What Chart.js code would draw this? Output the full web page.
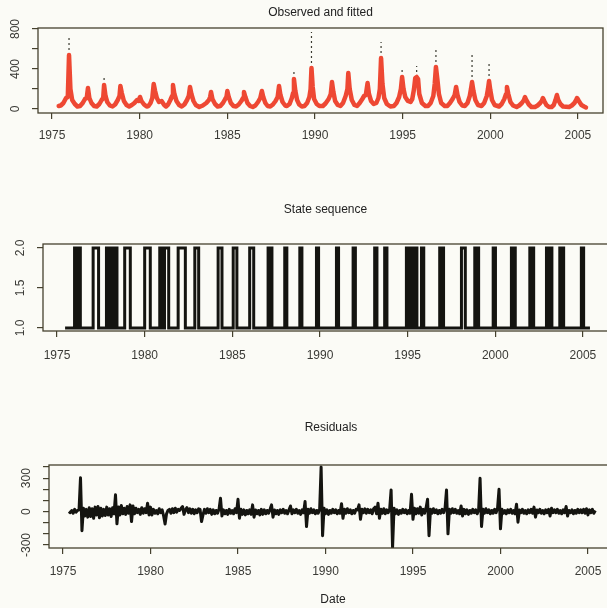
<!DOCTYPE html>
<html><head><meta charset="utf-8">
<script src="https://cdn.jsdelivr.net/npm/chart.js@4"></script>
<style>
html,body{margin:0;padding:0;background:#fbfbf6;overflow:hidden;width:607px;height:608px;position:relative;}
canvas{position:absolute;left:0;}
</style></head><body>
<canvas id="c1"></canvas>
<canvas id="c2"></canvas>
<canvas id="c3"></canvas>
<script>
// ---------- DATA ----------
const xTickYears = [1975, 1980, 1985, 1990, 1995, 2000, 2005];

// Panel 1: fitted series (red), [year, value]
const fittedPoints = [
 [1975.38,30],[1975.5,35],[1975.65,60],[1975.8,110],[1975.9,120],[1975.97,540],[1976.05,200],[1976.15,90],[1976.3,50],[1976.45,25],
 [1976.6,30],[1976.75,60],[1976.88,100],[1976.98,110],[1977.05,210],[1977.13,110],[1977.25,60],[1977.4,30],
 [1977.55,25],[1977.7,50],[1977.83,90],[1977.92,110],[1977.97,240],[1978.05,130],[1978.15,70],[1978.3,35],
 [1978.45,25],[1978.6,45],[1978.75,90],[1978.85,130],[1978.9,230],[1978.98,160],[1979.1,80],[1979.25,40],
 [1979.4,25],[1979.55,40],[1979.7,60],[1979.85,90],[1979.95,80],[1980.02,120],[1980.1,80],[1980.25,45],[1980.4,25],
 [1980.5,30],[1980.62,60],[1980.72,110],[1980.8,250],[1980.88,180],[1980.98,110],[1981.1,70],[1981.25,80],[1981.4,40],
 [1981.5,25],[1981.62,45],[1981.75,90],[1981.85,130],[1981.9,240],[1981.98,150],[1982.1,80],[1982.25,40],
 [1982.4,25],[1982.55,45],[1982.7,90],[1982.8,130],[1982.87,220],[1982.95,150],[1983.07,80],[1983.2,40],
 [1983.4,20],[1983.6,35],[1983.8,60],[1983.95,90],[1984.02,120],[1984.07,170],[1984.15,100],[1984.3,50],[1984.45,25],
 [1984.6,30],[1984.75,60],[1984.88,100],[1984.95,120],[1985.0,180],[1985.08,120],[1985.2,60],[1985.35,30],
 [1985.5,25],[1985.65,45],[1985.8,80],[1985.9,110],[1985.95,170],[1986.03,120],[1986.15,60],[1986.3,30],
 [1986.45,20],[1986.6,35],[1986.75,70],[1986.88,110],[1986.97,180],[1987.05,120],[1987.17,60],[1987.3,30],
 [1987.45,25],[1987.6,45],[1987.75,80],[1987.87,120],[1987.95,230],[1988.03,140],[1988.15,70],[1988.3,35],
 [1988.4,30],[1988.55,50],[1988.68,110],[1988.75,160],[1988.8,300],[1988.88,180],[1988.98,90],[1989.1,45],[1989.25,25],
 [1989.4,30],[1989.55,60],[1989.68,120],[1989.75,200],[1989.8,410],[1989.87,220],[1989.95,100],[1990.1,50],[1990.25,30],
 [1990.45,30],[1990.6,55],[1990.78,100],[1990.9,150],[1990.97,270],[1991.05,170],[1991.15,80],[1991.3,40],
 [1991.45,30],[1991.6,60],[1991.75,130],[1991.85,200],[1991.9,360],[1991.98,200],[1992.1,90],[1992.25,40],
 [1992.4,30],[1992.55,60],[1992.7,100],[1992.8,130],[1992.9,140],[1993.0,260],[1993.08,150],[1993.2,80],[1993.35,50],
 [1993.5,60],[1993.62,110],[1993.7,200],[1993.77,510],[1993.85,250],[1993.95,110],[1994.1,50],[1994.3,25],
 [1994.5,30],[1994.65,60],[1994.8,120],[1994.9,200],[1994.97,320],[1995.05,200],[1995.15,120],[1995.3,80],[1995.45,70],
 [1995.55,100],[1995.65,200],[1995.72,310],[1995.8,320],[1995.88,300],[1995.95,150],[1996.1,60],[1996.3,30],
 [1996.45,30],[1996.6,60],[1996.75,130],[1996.83,250],[1996.9,420],[1996.98,300],[1997.07,150],[1997.2,60],[1997.4,30],
 [1997.55,30],[1997.7,60],[1997.85,100],[1997.97,140],[1998.05,220],[1998.13,140],[1998.25,70],[1998.4,35],
 [1998.55,30],[1998.7,60],[1998.83,130],[1998.9,200],[1998.96,270],[1999.04,180],[1999.15,90],[1999.3,40],
 [1999.5,30],[1999.65,60],[1999.8,130],[1999.87,200],[1999.93,280],[2000.0,190],[2000.1,90],[2000.25,40],
 [2000.5,25],[2000.65,50],[2000.8,100],[2000.9,150],[2000.95,220],[2001.03,150],[2001.15,70],[2001.3,35],
 [2001.5,20],[2001.65,35],[2001.8,60],[2001.92,90],[2001.98,120],[2002.05,90],[2002.2,45],[2002.35,20],
 [2002.55,20],[2002.7,35],[2002.85,60],[2002.95,85],[2003.0,110],[2003.08,80],[2003.2,40],[2003.35,20],
 [2003.5,20],[2003.62,40],[2003.72,90],[2003.8,140],[2003.88,90],[2004.0,50],[2004.15,25],
 [2004.5,20],[2004.65,35],[2004.8,60],[2004.9,90],[2004.95,110],[2005.05,80],[2005.2,40],[2005.35,25],[2005.46,15]
];

// Panel 1: observed values where they rise above the fitted peak (dotted)
const observedPeakYears  = [1975.97, 1977.97, 1984.07, 1988.8, 1989.8, 1993.77, 1994.97, 1995.8, 1996.9, 1998.96, 1999.93, 2003.8];
const fittedPeakValues   = [540, 240, 170, 300, 410, 510, 320, 320, 420, 270, 280, 140];
const observedPeakValues = [740, 330, 210, 370, 770, 670, 420, 430, 620, 540, 480, 170];

const obsTicks = [0, 200, 400, 600, 800];
const obsTickLabels = [0, 400, 800];

// Panel 2: state sequence, intervals spent in state 2
const stateStartYear = 1975.46, stateEndYear = 2005.4;
const state2Start = [1976.0,1976.1,1976.2, 1977.06, 1977.82,1977.98,1978.1,1978.22,1978.35, 1978.86, 1980.0,
  1980.86,1981.0,1981.13, 1981.91, 1982.86, 1984.19, 1985.05, 1985.99, 1987.04,1987.16, 1987.99, 1988.85, 1989.8,
  1990.94, 1991.89, 1993.12, 1993.69, 1994.93,1995.05,1995.17,1995.29,1995.41, 1995.79, 1996.83,1996.96, 1998.07,
  1998.83,1998.96, 1999.88, 2000.92,2001.04, 2001.97,2002.09, 2002.92,2003.04,2003.16, 2003.68,2003.8, 2004.91];
const state2End = [1976.06,1976.16,1976.33, 1977.37, 1977.88,1978.05,1978.17,1978.3,1978.42, 1979.18, 1980.32,
  1980.95,1981.08,1981.37, 1982.32, 1983.08, 1984.41, 1985.26, 1986.22, 1987.12,1987.26, 1988.11, 1988.97, 1989.92,
  1991.06, 1992.02, 1993.25, 1993.82, 1995.0,1995.12,1995.24,1995.36,1995.53, 1995.92, 1996.92,1997.05, 1998.29,
  1998.92,1999.05, 2000.01, 2001.0,2001.14, 2002.05,2002.19, 2003.0,2003.12,2003.23, 2003.76,2003.9, 2005.04];
const stateTicks = [1, 1.5, 2];
const stateTickLabels = ['1.0', '1.5', '2.0'];

// Panel 3: monthly residuals, one row per year (Jan..Dec)
const residualFirstYear = 1975;
const residualRows = [
 [null,null,null,null,0,-10,10,-15,20,-5,10,15],
 [304,-172,30,-40,20,-50,35,-45,25,-60,40,-30],
 [45,-55,30,-40,20,-35,40,-30,25,-45,35,-20],
 [150,-110,40,-30,55,-20,30,-25,45,-15,60,-90],
 [50,-20,30,-10,20,-25,35,-15,25,-10,75,-30],
 [40,-30,20,-15,10,-20,25,-10,15,-40,-112,-20],
 [10,20,-15,25,-10,30,-5,20,10,30,45,-25],
 [15,35,-10,25,-15,20,-20,15,-10,25,20,-90],
 [-30,20,-15,25,-10,20,-25,15,-20,10,-15,20],
 [120,-40,15,-20,10,-25,20,-15,10,-20,25,-10],
 [110,-60,20,-25,15,-30,10,-20,15,-25,60,-50],
 [15,-20,10,-30,20,-25,15,-20,10,-15,20,60],
 [-50,15,-20,10,-25,15,-10,20,-15,10,-20,15],
 [50,-20,15,-10,20,-15,10,-25,15,-10,90,-135],
 [20,-15,25,-10,15,-20,10,-15,20,400,-217,30],
 [-20,15,-25,10,-15,20,-10,15,-20,10,-15,70],
 [-60,20,-15,25,-10,15,-20,10,-15,20,15,60],
 [-70,20,-10,25,-15,20,-10,15,-20,25,40,-20],
 [75,-60,20,-15,25,-20,15,-10,20,194,-325,30],
 [-20,15,-25,10,-15,20,-10,15,-20,10,-15,155],
 [-70,30,-20,25,-15,40,-30,20,-15,35,110,-217],
 [20,-15,25,-10,15,-20,10,-15,20,-10,30,194],
 [-200,20,-15,25,-10,20,-15,10,-20,50,-40,20],
 [-20,15,-25,10,-15,20,-10,15,-20,10,298,-134],
 [20,-15,25,-10,15,-20,10,-15,20,-10,30,200],
 [-155,20,-15,10,-20,15,-10,20,-15,10,-20,66],
 [-95,15,-10,20,-15,10,-20,15,-10,20,-15,40],
 [-50,15,-10,20,-15,10,-20,15,-10,20,-40,30],
 [-10,15,-10,20,-15,10,-20,15,-10,45,-40,10],
 [-10,15,-20,10,-15,20,-10,15,-10,20,-15,25],
 [-30,15,-10,20,-15,10]
];
const resTicks = [-300,-200,-100,0,100,200,300,400];
const resTickLabels = [-300, 0, 300];

// ---------- BUILD ----------
const FONT = "'Liberation Sans', Arial, Helvetica, sans-serif";
const BOX = '#45412e';
const TXT = '#3a3a36';

const fittedData = fittedPoints.map(p => ({x:p[0], y:p[1]}));
const observedData = [];
observedPeakYears.forEach((t,i) => {
  observedData.push({x:t, y:fittedPeakValues[i]});
  observedData.push({x:t, y:observedPeakValues[i]});
  observedData.push({x:t, y:null});
});

const stateData = [{x:stateStartYear, y:1}];
state2Start.forEach((s,i) => { stateData.push({x:s, y:2}); stateData.push({x:state2End[i], y:1}); });
stateData.push({x:stateEndYear, y:1});

const residualData = [];
residualRows.forEach((row, i) => row.forEach((v, m) => {
  if (v !== null) residualData.push({x: residualFirstYear + i + m/12, y: v});
}));

const framePlugin = {
  id: 'frame',
  afterDraw(chart) {
    const o = chart.options.plugins.frame;
    const ctx = chart.ctx, a = chart.chartArea;
    ctx.save();
    ctx.strokeStyle = BOX; ctx.lineWidth = 1.3;
    ctx.strokeRect(a.left, a.top, a.right - a.left, a.bottom - a.top);
    ctx.fillStyle = '#222';
    ctx.font = '12px ' + FONT;
    ctx.textAlign = 'center'; ctx.textBaseline = 'middle';
    ctx.fillText(o.title, (a.left + a.right) / 2, o.titleY);
    if (o.xlabel) ctx.fillText(o.xlabel, o.xlabelX, o.xlabelY);
    const ys = chart.scales.y;
    ctx.fillStyle = TXT;
    o.yLabels.forEach((lab, i) => {
      const py = ys.getPixelForValue(o.yLabelValues[i]);
      ctx.save();
      ctx.translate(a.left - 22, py);
      ctx.rotate(-Math.PI/2);
      ctx.fillText(String(lab), 0, 0);
      ctx.restore();
    });
    ctx.restore();
  }
};

function makePanel(id, cfg) {
  const cv = document.getElementById(id);
  cv.width = 620; cv.height = cfg.height;
  cv.style.width = '620px'; cv.style.height = cfg.height + 'px';
  cv.style.top = cfg.top + 'px';
  const axisCommon = {
    grid: {display:true, drawOnChartArea:false, drawTicks:true, tickLength:6, color:BOX, lineWidth:1.2},
    border: {display:false}
  };
  return new Chart(cv, {
    type: 'line',
    data: {datasets: cfg.datasets},
    options: {
      responsive: false, animation: false, devicePixelRatio: 1,
      layout: {padding: {left:0, top: cfg.area.top - cfg.top, right: 620 - cfg.area.right, bottom: 0}},
      elements: {point: {radius: 0}, line: {tension: 0}},
      plugins: {
        legend: {display:false}, tooltip: {enabled:false}, title: {display:false},
        frame: {title: cfg.title, titleY: cfg.titleY - cfg.top, xlabel: cfg.xlabel,
                xlabelX: cfg.xlabelX, xlabelY: cfg.xlabelY - cfg.top,
                yLabels: cfg.yLabels, yLabelValues: cfg.yLabelValues}
      },
      scales: {
        x: Object.assign({}, axisCommon, {
          type: 'linear', min: 1974.2, max: cfg.xmax,
          afterBuildTicks: s => { s.ticks = xTickYears.map(v => ({value: v})); },
          afterFit: s => { s.height = cfg.top + cfg.height - cfg.area.bottom; },
          ticks: {font: {family: FONT, size: 12}, color: TXT, padding: cfg.xPad, maxRotation: 0, autoSkip: false,
                  callback: v => String(v)}
        }),
        y: Object.assign({}, axisCommon, {
          type: 'linear', min: cfg.ymin, max: cfg.ymax,
          afterBuildTicks: s => { s.ticks = cfg.yTicks.map(v => ({value: v})); },
          afterFit: s => { s.width = cfg.area.left; },
          ticks: {display: false}
        })
      }
    },
    plugins: [framePlugin]
  });
}

makePanel('c1', {
  top: 0, height: 150, area: {left: 38, top: 28, right: 603, bottom: 113},
  xmax: 2006.43, ymin: -40, ymax: 810, yTicks: obsTicks,
  yLabels: obsTickLabels, yLabelValues: obsTickLabels,
  title: 'Observed and fitted', titleY: 13, xPad: 9,
  datasets: [
    {data: fittedData, borderColor: '#ee4833', borderWidth: 4.5, fill: false, borderJoinStyle: 'round', borderCapStyle: 'round'},
    {data: observedData, borderColor: '#3a3a30', borderWidth: 1.2, borderDash: [2, 3], fill: false, spanGaps: false}
  ]
});

makePanel('c2', {
  top: 195, height: 175, area: {left: 43, top: 244, right: 608, bottom: 331},
  xmax: 2006.43, ymin: 0.9625, ymax: 2.05, yTicks: stateTicks,
  yLabels: stateTickLabels, yLabelValues: stateTicks,
  title: 'State sequence', titleY: 210, xPad: 11,
  datasets: [
    {data: stateData, borderColor: '#141410', borderWidth: 3, stepped: true, fill: false}
  ]
});

makePanel('c3', {
  top: 415, height: 193, area: {left: 49, top: 465, right: 613, bottom: 548},
  xmax: 2006.43, ymin: -327, ymax: 418, yTicks: resTicks,
  yLabels: resTickLabels, yLabelValues: resTickLabels,
  title: 'Residuals', titleY: 428, xPad: 10,
  xlabel: 'Date', xlabelX: 333, xlabelY: 600,
  datasets: [
    {data: residualData, borderColor: '#141410', borderWidth: 3, fill: false, borderJoinStyle: 'round'}
  ]
});
</script>
</body></html>
